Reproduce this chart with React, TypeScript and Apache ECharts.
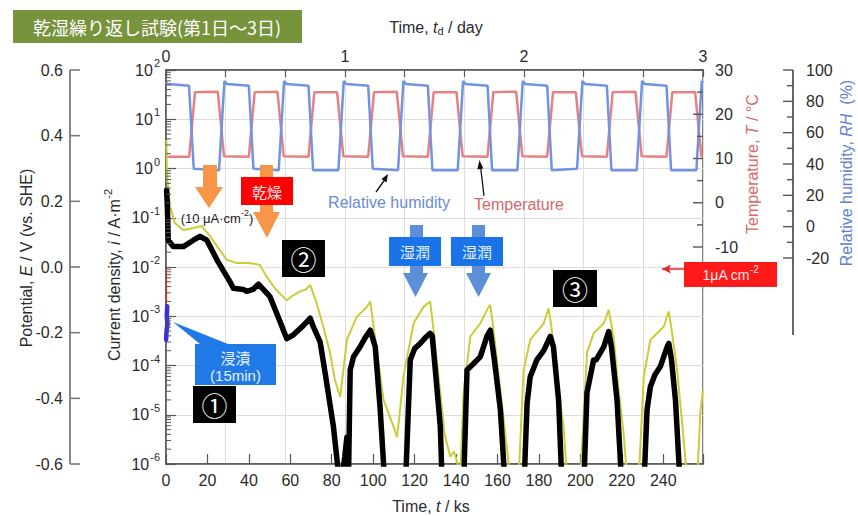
import React, { useEffect, useRef } from 'react';
import * as echarts from 'echarts';

const FONT = '"Liberation Sans", Arial, Helvetica, sans-serif';
const CJK = '"Noto Sans CJK JP", "Noto Sans CJK SC", sans-serif';

// ---- tick labels ----
const timeKsLabels = [0, 20, 40, 60, 80, 100, 120, 140, 160, 180, 200, 220, 240];
const dayLabels = [0, 1, 2, 3];
const potentialTicks = [-0.6, -0.4, -0.2, 0, 0.2, 0.4, 0.6];
const tempTicks = [-10, 0, 10, 20, 30];
const tempMinorTicks = [-5, 5, 15, 25];
const rhTicks = [-20, 0, 20, 40, 60, 80, 100];
const rhMinorTicks = [-10, 10, 30, 50, 70, 90];

// ---- current density (A m^-2) vs time (ks) ----
const currentBlack: [number, number][] = [
  [0.3, 3.6e-1], [0.6, 2.0e-1], [1.1, 3.5e-2], [3.5, 2.6e-2], [8.4, 2.6e-2], [13.2, 3.5e-2],
  [16.4, 4.2e-2], [19.7, 3.5e-2], [25, 1.3e-2], [30.9, 5.0e-3], [32.5, 3.7e-3], [37.3, 3.5e-3],
  [39, 3.2e-3], [42, 3.5e-3], [44.6, 4.5e-3], [50.2, 2.5e-3], [54, 1.0e-3], [58.3, 3.5e-4],
  [61.5, 4.2e-4], [66, 6.3e-4], [69.6, 9.1e-4], [71, 6.3e-4], [74.4, 3.0e-4], [77, 6.3e-5],
  [80.8, 5.8e-6], [84.1, 3e-7], [86.3, 1.4e-6], [87.3, 3.5e-6], [88.0, 3e-7], [88.9, 8.1e-5],
  [90.5, 1.5e-4], [93.7, 2.4e-4], [96, 3.6e-4], [98.6, 5.2e-4], [101, 2.4e-4], [103.4, 1.26e-5],
  [105.8, 3e-7], [115.5, 3e-7], [117.9, 1.3e-4], [120, 2.2e-4], [122.7, 2.8e-4], [125, 3.6e-4],
  [127.5, 4.5e-4], [128.5, 4.0e-4], [130, 8e-5], [132.4, 5.8e-6], [133.4, 3e-7], [143.6, 3e-7],
  [145.3, 8.1e-5], [148.5, 1.1e-4], [151.7, 1.5e-4], [154.9, 3.9e-4], [156.5, 5.2e-4],
  [158.5, 1.3e-4], [161.4, 1.26e-5], [163.8, 3e-7], [172.8, 3e-7], [173.4, 1.7e-6], [174.3, 1.7e-5],
  [175.8, 5.9e-5], [179, 1.3e-4], [182.3, 2.0e-4], [185.5, 3.9e-4], [187, 2.4e-4], [189.5, 2.0e-5],
  [191.2, 3e-7], [201.6, 3e-7], [203.2, 2.8e-5], [206.4, 1.3e-4], [207.6, 1.3e-4], [211.3, 2.4e-4],
  [213.7, 4.9e-4], [215, 2.4e-4], [217.7, 2.0e-5], [220.1, 3e-7], [230.6, 3e-7], [232.2, 1.26e-5],
  [233.8, 3.7e-5], [236, 6.5e-5], [238.6, 9.5e-5], [241.9, 2.4e-4], [242.7, 2.8e-4], [244, 1.3e-4],
  [245.9, 2.0e-5], [248.3, 3e-7],
];

const currentYellow: [number, number][] = [
  [0.2, 3.8], [0.4, 8e-1], [1.9, 1.7e-1], [4.3, 7.8e-2], [8.4, 5.6e-2], [13.2, 6.2e-2],
  [17.2, 6.8e-2], [21.3, 4.2e-2], [25, 2.5e-2], [29.3, 1.4e-2], [34.2, 1.2e-2], [40.6, 1.2e-2],
  [45.4, 1.1e-2], [48.6, 6.3e-3], [53, 3.5e-3], [58.3, 2.1e-3], [61, 2.6e-3], [64.7, 3.2e-3],
  [67.5, 3.5e-3], [69.6, 4.3e-3], [72.8, 1.8e-3], [76, 6e-4], [79.2, 1.8e-4], [81.5, 5.1e-5],
  [84.1, 2.3e-5], [87.3, 3.3e-4], [92.1, 9.8e-4], [97, 1.55e-3], [98.6, 2.0e-3], [100.2, 6.2e-4],
  [105, 2.0e-5], [109.8, 5.8e-6], [111.5, 3.5e-6], [112.5, 8e-6], [114.6, 5.9e-5], [119.5, 7.2e-4],
  [124.3, 1.55e-3], [127.5, 2.0e-3], [129, 6e-4], [132.4, 2.75e-5], [134.5, 4e-6], [137.2, 1.4e-6],
  [139, 1.8e-6], [140.5, 1.1e-6], [142, 5e-7], [143.6, 2.75e-5], [146.9, 3.9e-4], [151.7, 7.2e-4],
  [155.7, 1.55e-3], [156.5, 1.7e-3], [157.5, 8.3e-4], [159.7, 1.3e-4], [163, 7.9e-6], [166.2, 5e-7],
  [170.2, 5e-7], [172.6, 8.1e-5], [175.8, 3.3e-4], [182.3, 7.2e-4], [184.7, 1.45e-3], [186, 6.2e-4],
  [188.3, 8.1e-5], [191.9, 5.8e-6], [193.6, 5e-7], [200, 5e-7], [203.2, 1.8e-4], [206.4, 4.5e-4],
  [211.3, 7.2e-4], [213.7, 1.35e-3], [216, 3.9e-4], [218.3, 3.7e-5], [220.9, 4.2e-6], [222.6, 5e-7],
  [228.2, 5e-7], [230.6, 5.9e-5], [233.8, 3.3e-4], [240.3, 6.2e-4], [242.7, 1.26e-3], [244.3, 4.5e-4],
  [246.7, 8.1e-5], [249.9, 3.1e-6], [251.5, 5e-7], [256.4, 5e-7], [258, 1.26e-5], [259.2, 3.2e-5],
];

// immersion period (15 min)
const immersionRed: [number, number][] = [[0.15, 9.5e-3], [0.2, 1.9e-3]];
const immersionBlue: [number, number][] = [[0.6, 1.6e-3], [0.35, 1.0e-3], [0.7, 7e-4], [0.25, 5e-4], [0.05, 3.3e-4]];

// ---- temperature (deg C) vs time (ks) ----
const temperature: [number, number][] = [
  [0, 10.4], [11.2, 10.4], [14, 25], [25, 25.1], [28, 10.5],
  [40, 10.4], [42.8, 25], [53.8, 25.1], [56.8, 10.5],
  [68.8, 10.4], [71.6, 25], [82.6, 25], [85.6, 10.5],
  [97.6, 10.4], [100.4, 25], [111.4, 25.1], [114.4, 10.5],
  [126.4, 10.4], [129.2, 25], [140.2, 25], [143.2, 10.5],
  [155.2, 10.4], [158, 25], [169, 25.1], [172, 10.5],
  [184, 10.4], [186.8, 25], [197.8, 25], [200.8, 10.5],
  [212.8, 10.4], [215.6, 25], [226.6, 25.1], [229.6, 10.5],
  [241.6, 10.4], [244.4, 25], [255.4, 25], [258.4, 10.5], [259.2, 10.5],
];

// ---- relative humidity (%) vs time (ks) ----
const humidity: [number, number][] = [
  [0, 92], [1, 91], [11.1, 90], [13.4, 37], [25.6, 36], [28.2, 93],
  [29.5, 91], [40, 90], [42.2, 37], [54.4, 36], [57, 93],
  [58.3, 91], [68.8, 90], [71, 36], [83.2, 36], [85.8, 93],
  [87.1, 91], [97.6, 90], [99.8, 37], [112, 36], [114.6, 93],
  [115.9, 91], [126.4, 90], [128.6, 36], [140.8, 36], [143.4, 93],
  [144.7, 91], [155.2, 90], [157.4, 36], [169.6, 36], [172.2, 93],
  [173.5, 91], [184, 90], [186.2, 36], [198.4, 37], [201, 93],
  [202.3, 91], [212.8, 90], [215, 36], [227.2, 36], [229.8, 93],
  [231.1, 91], [241.6, 90], [243.8, 36], [256, 36], [258.6, 93], [259.2, 92],
];

const AX = '#575757';
const LBL = '#2b2b2b';
const X_END = 259.2;

// layout of the plot frame
const G_LEFT = 166;
const G_TOP = 70;
const G_W = 537;
const MAIN_H = 394;
const T_H = 177;
const RH_H = 188;
const POT = { min: -0.6, max: 0.6 };
const TEMP = { min: -10, max: 30 };
const RH = { min: -20, max: 100 };

function txt(x: number, y: number, text: string, opts: any = {}) {
  return {
    type: 'text', x, y, z: 100, rotation: opts.rotation || 0,
    style: {
      text, fill: opts.fill || LBL, align: opts.align || 'center', verticalAlign: 'middle',
      fontSize: opts.fontSize || 16, fontFamily: opts.fontFamily || FONT,
      fontStyle: opts.fontStyle || 'normal', rich: opts.rich,
    },
  };
}
function rect(x: number, y: number, w: number, h: number, fill: string) {
  return { type: 'rect', z: 100, shape: { x, y, width: w, height: h }, style: { fill } };
}
function poly(points: number[][], fill: string) {
  return { type: 'polygon', z: 100, shape: { points }, style: { fill } };
}
function line(x1: number, y1: number, x2: number, y2: number, stroke: string, w = 1.5) {
  return { type: 'line', z: 100, shape: { x1, y1, x2, y2 }, style: { stroke, lineWidth: w } };
}
// thin filled bars used for axis lines and ticks
function vbar(x: number, y1: number, y2: number, fill: string, w = 1.6) {
  return rect(x - w / 2, Math.min(y1, y2), w, Math.abs(y2 - y1), fill);
}
function hbar(x1: number, x2: number, y: number, fill: string, h = 1.4) {
  return rect(Math.min(x1, x2), y - h / 2, Math.abs(x2 - x1), h, fill);
}

function richFor(size: number, color: string) {
  const sub = Math.round(size * 0.68);
  return {
    a: { fontSize: size, fontFamily: FONT, fill: color, color },
    i: { fontSize: size, fontFamily: FONT, fill: color, color, fontStyle: 'italic' },
    s: { fontSize: sub, fontFamily: FONT, fill: color, color, padding: [0, 0, Math.round(size * 0.8), 0] },
    d: { fontSize: sub, fontFamily: FONT, fill: color, color, padding: [Math.round(size * 0.5), 0, 0, 0] },
  };
}

// linear axis mapping that mirrors the grids above
const yLin = (v: number, r: { min: number; max: number }, h: number) => G_TOP + ((r.max - v) / (r.max - r.min)) * h;
const yLog = (v: number) => G_TOP + ((2 - Math.log10(v)) / 8) * MAIN_H;

function axisDecor(): any[] {
  const out: any[] = [];
  const right = G_LEFT + G_W;
  const potX = G_LEFT - 96;
  const PG = '#7a7a7a';
  // potential axis
  out.push(vbar(potX, yLin(POT.min, POT, MAIN_H), yLin(POT.max, POT, MAIN_H), PG, 1.8));
  potentialTicks.forEach((v) => {
    const y = yLin(v, POT, MAIN_H);
    out.push(hbar(potX, potX + 10, y, PG, 1.6));
    out.push(txt(potX - 7, y, Math.abs(v) < 1e-9 ? '0.0' : v.toFixed(1), { align: 'right' }));
  });
  // temperature axis (right edge of the frame)
  tempTicks.forEach((v) => {
    const y = yLin(v, TEMP, T_H);
    out.push(hbar(right - 10, right, y, AX));
    out.push(txt(right + 12, y, String(v), { align: 'left' }));
  });
  tempMinorTicks.forEach((v) => {
    const y = yLin(v, TEMP, T_H);
    out.push(hbar(right - 6, right, y, AX));
  });
  // relative humidity axis
  const rhX = right + 90;
  out.push(vbar(rhX, yLin(RH.max, RH, RH_H), 335, AX, 1.8));
  rhTicks.forEach((v) => {
    const y = yLin(v, RH, RH_H);
    out.push(hbar(rhX - 10, rhX, y, AX));
    out.push(txt(rhX + 13, y, String(v), { align: 'left' }));
  });
  rhMinorTicks.forEach((v) => {
    const y = yLin(v, RH, RH_H);
    out.push(hbar(rhX - 6, rhX, y, AX));
  });
  // log minor ticks
  for (let e = -6; e < 2; e++) {
    for (let m = 2; m <= 9; m++) {
      const y = yLog(m * Math.pow(10, e));
      out.push(hbar(G_LEFT, G_LEFT + 5, y, AX, 1));
    }
  }
  return out;
}

export default function App() {
  const ref = useRef<HTMLDivElement>(null);
  useEffect(() => {
    if (!ref.current) return;
    const chart = echarts.init(ref.current, null, { renderer: 'svg' });
    const axisLabelBase = { fontSize: 16, color: LBL, fontFamily: FONT };
    const orange = '#f79646';
    const wetArrow = '#5b8fd8';
    const wetBox = '#1a73e8';

    const graphics: any[] = [
      // axis lines, ticks and labels of the secondary axes
      ...axisDecor(),
      // title
      rect(13, 10, 289, 33, '#77933c'),
      txt(157, 27, '乾湿繰り返し試験(第1日～3日)', { fill: '#ffffff', fontSize: 18, fontFamily: CJK }),
      // axis titles
      txt(436, 27, '{a|Time, }{i|t}{d|d}{a| / day}', { rich: richFor(16, LBL) }),
      txt(431, 506, '{a|Time, }{i|t}{a| / ks}', { rich: richFor(16, LBL) }),
      txt(26, 258, '{a|Potential, }{i|E}{a| / V (vs. SHE)}', { rich: richFor(16, LBL), rotation: Math.PI / 2 }),
      txt(114, 275, '{a|Current density, }{i|i}{a| / A·m}{s|-2}', { rich: richFor(16, LBL), rotation: Math.PI / 2 }),
      txt(752, 164, '{a|Temperature, }{i|T}{a| / °C}', { rich: richFor(16, '#d9686b'), rotation: Math.PI / 2 }),
      txt(846, 173, '{a|Relative humidity, }{i|RH}{a|  (%)}', { rich: richFor(16, '#5f80d2'), rotation: Math.PI / 2 }),
      // orange arrows (drying)
      poly([[203, 165], [217, 165], [217, 187], [223, 187], [209, 208], [195, 187], [203, 187]], orange),
      poly([[260, 165], [273, 165], [273, 212], [280, 212], [267, 238], [253, 212], [260, 212]], orange),
      rect(241, 177, 52, 28, '#ff0000'),
      txt(267, 191, '乾燥', { fill: '#ffe8e8', fontSize: 15, fontFamily: CJK }),
      txt(217, 218, '{a|(10 μA·cm}{s|-2}{a|)}', { rich: richFor(13, '#222222') }),
      // RH / temperature labels with arrows
      txt(389, 202, 'Relative humidity', { fill: '#6a8bd6', fontSize: 16 }),
      line(376, 192, 386, 178, '#111', 1.3),
      poly([[388, 174], [386.5, 182.4], [381.5, 179]], '#111'),
      txt(519, 204, 'Temperature', { fill: '#d9666a', fontSize: 16 }),
      line(484, 196, 480.5, 166, '#111', 1.3),
      poly([[479.5, 160], [483.3, 168.6], [477.3, 169.4]], '#111'),
      // wet arrows & boxes
      poly([[410, 225], [423, 225], [423, 273], [428, 273], [415.5, 297], [403, 273], [410, 273]], wetArrow),
      rect(389, 237, 52, 29, wetBox),
      txt(415, 251, '湿潤', { fill: '#e8f0ff', fontSize: 15, fontFamily: CJK }),
      poly([[472, 225], [485, 225], [485, 273], [491, 273], [478.5, 297], [466, 273], [472, 273]], wetArrow),
      rect(451, 237, 52, 29, wetBox),
      txt(477, 251, '湿潤', { fill: '#e8f0ff', fontSize: 15, fontFamily: CJK }),
      // stage boxes
      rect(282, 240, 43, 37, '#000'),
      txt(303.5, 258.5, '②', { fill: '#fff', fontSize: 26, fontFamily: CJK }),
      rect(553, 270, 44, 37, '#000'),
      txt(575, 288.5, '③', { fill: '#fff', fontSize: 26, fontFamily: CJK }),
      rect(193, 386, 43, 37, '#000'),
      txt(214.5, 404.5, '①', { fill: '#fff', fontSize: 26, fontFamily: CJK }),
      // immersion callout
      poly([[173, 322], [200, 344], [228, 344]], '#1f7ae8'),
      rect(195, 344, 81, 41, '#1f7ae8'),
      txt(235.5, 357, '浸漬', { fill: '#e8f0ff', fontSize: 15, fontFamily: CJK }),
      txt(235.5, 375, '(15min)', { fill: '#e8f0ff', fontSize: 15 }),
      // 1 uA cm-2 marker
      line(662, 269, 684, 269, '#e02828', 1.5),
      poly([[662, 269], [671, 264.5], [669, 269], [671, 273.5]], '#e02828'),
      rect(684, 262, 93, 25, '#ff1a1a'),
      txt(730.5, 274.5, '{a|1μA cm}{s|-2}', { rich: richFor(14, '#ffe6e6') }),
    ];

    const noZero = { onZero: false };
    const option: any = {
      animation: false,
      backgroundColor: '#ffffff',
      grid: [
        { left: G_LEFT, top: G_TOP, width: G_W, height: MAIN_H, show: true, borderColor: AX, borderWidth: 1.5, backgroundColor: 'transparent', outerBoundsMode: 'none' },
        { left: G_LEFT, top: G_TOP, width: G_W, height: T_H, outerBoundsMode: 'none' },
        { left: G_LEFT, top: G_TOP, width: G_W, height: RH_H, outerBoundsMode: 'none' },
      ],
      xAxis: [
        {
          gridIndex: 0, type: 'value', position: 'bottom', min: 0, max: X_END, interval: 20,
          axisLine: { show: true, ...noZero, lineStyle: { color: AX, width: 1.5 } },
          axisTick: { show: true, inside: true, length: 10, lineStyle: { color: AX, width: 1.2 } },
          axisLabel: { ...axisLabelBase, margin: 8, formatter: (v: number) => (timeKsLabels.includes(Math.round(v)) && Math.abs(v - Math.round(v)) < 1e-6 ? String(Math.round(v)) : '') },
          splitLine: { show: false },
        },
        {
          gridIndex: 0, type: 'value', position: 'top', min: 0, max: 3, interval: 1 / 3,
          axisLine: { show: true, ...noZero, lineStyle: { color: AX, width: 1.5 } },
          axisTick: { show: true, inside: true, length: 7, lineStyle: { color: AX, width: 1.2 } },
          axisLabel: {
            ...axisLabelBase, margin: 6,
            formatter: (v: number) => {
              const r = Math.round(v);
              return Math.abs(v - r) < 1e-6 && dayLabels.includes(r) ? String(r) : '';
            },
          },
          splitLine: { show: true, lineStyle: { color: '#dddddd', width: 1 } },
        },
        { gridIndex: 1, type: 'value', min: 0, max: X_END, show: false },
        { gridIndex: 2, type: 'value', min: 0, max: X_END, show: false },
      ],
      yAxis: [
        {
          gridIndex: 0, type: 'log', logBase: 10, min: 1e-6, max: 100, splitNumber: 8, position: 'left',
          axisLine: { show: true, ...noZero, lineStyle: { color: AX, width: 1.5 } },
          axisTick: { show: true, inside: true, length: 10, lineStyle: { color: AX, width: 1.2 } },
          axisLabel: {
            margin: 6,
            formatter: (v: number) => `{b|10}{s|${Math.round(Math.log10(v))}}`,
            rich: {
              b: { fontSize: 16, fontFamily: FONT, color: LBL },
              s: { fontSize: 11, fontFamily: FONT, color: LBL, padding: [0, 0, 14, 1] },
            },
          },
          splitLine: { show: true, lineStyle: { color: '#dddddd', width: 1 } },
        },
        { gridIndex: 1, type: 'value', position: 'right', min: TEMP.min, max: TEMP.max, show: false },
        { gridIndex: 2, type: 'value', position: 'right', min: RH.min, max: RH.max, show: false },
      ],
      series: [
        {
          type: 'line', name: 'Temperature', xAxisIndex: 2, yAxisIndex: 1, data: temperature, showSymbol: false,
          lineStyle: { color: '#e98080', width: 2.5 }, z: 3,
        },
        {
          type: 'line', name: 'Relative humidity', xAxisIndex: 3, yAxisIndex: 2, data: humidity, showSymbol: false,
          lineStyle: { color: '#7093e3', width: 2.5 }, z: 3,
        },
        {
          type: 'line', name: 'current (yellow)', xAxisIndex: 0, yAxisIndex: 0, data: currentYellow, showSymbol: false,
          lineStyle: { color: '#cccc3a', width: 2 }, z: 4,
        },
        {
          type: 'line', name: 'current (black)', xAxisIndex: 0, yAxisIndex: 0, data: currentBlack, showSymbol: false,
          lineStyle: { color: '#000000', width: 5.5, join: 'round', cap: 'round' }, z: 5,
        },
        {
          type: 'line', name: 'immersion red', xAxisIndex: 0, yAxisIndex: 0, data: immersionRed, showSymbol: false,
          lineStyle: { color: '#e03030', width: 1.5 }, z: 6,
        },
        {
          type: 'line', name: 'immersion blue', xAxisIndex: 0, yAxisIndex: 0, data: immersionBlue, showSymbol: false,
          lineStyle: { color: '#3a2fd6', width: 4.5, join: 'round', cap: 'round' }, z: 6,
        },
      ],
      graphic: { elements: graphics },
    };
    chart.setOption(option);
    return () => chart.dispose();
  }, []);
  return <div ref={ref} style={{ position: 'fixed', left: 0, top: 0, width: 858, height: 516, background: '#fff' }} />;
}
